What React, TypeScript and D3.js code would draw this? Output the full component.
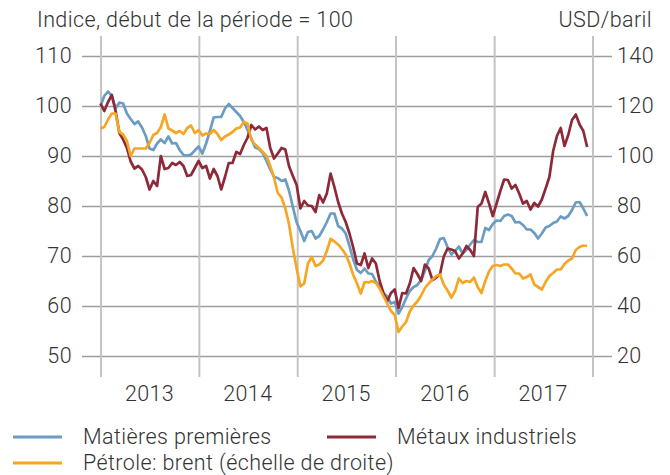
import React, { useEffect, useRef } from "react"
import * as d3 from "d3"

// chart size = browser window
const width = 670
const height = 475

// one value every 14 days, starting 1 Jan 2013
const startDate = new Date(2013, 0, 1)
const stepDays = 14

const yearLabels = ["2013", "2014", "2015", "2016", "2017"]
const leftTicks = [50, 60, 70, 80, 90, 100, 110]
const rightTicks = [20, 40, 60, 80, 100, 120, 140]

// Matières premières (indice, début = 100)
const matieres = [
  100, 102, 102.9, 102, 99.5, 100.7, 100.5, 98.5, 97.4, 96.4,
  96.9, 95.7, 94, 91.5, 91.2, 92.5, 93.3, 92.6, 93.9, 92.5,
  92.6, 91.2, 90.2, 90.1, 90.3, 91.1, 91.9, 90.5, 92.5, 95,
  97.7, 97.8, 97.8, 99.5, 100.4, 99.6, 98.8, 98, 96.8, 95.2,
  93.5, 91.7, 91.4, 90.6, 89, 87.3, 85.8, 85.6, 85, 85.3,
  83, 79.8, 76.7, 75, 73, 74.8, 75, 73.5, 74, 75.3,
  76.8, 78.5, 78.5, 76, 75.5, 74.5, 72, 69.3, 67.2, 66.6,
  67.5, 66.5, 66.4, 64.9, 64, 62.6, 61.9, 60.5, 60.8, 58.5,
  59.8, 61.5, 63, 63.8, 64.2, 65.2, 67, 69.2, 70, 71.5,
  73.4, 73.6, 71.8, 70.3, 71, 71.9, 70.5, 71.2, 72.3, 73.2,
  72.8, 72.8, 75.6, 75.2, 76.4, 77.1, 77, 78, 78.3, 78,
  76.7, 76.8, 76.2, 75.3, 75.3, 74.6, 73.5, 74.5, 75.7, 76,
  76.6, 76.9, 77.9, 77.5, 78, 79.2, 80.7, 80.8, 79.5, 78,
]

// Métaux industriels (indice, début = 100)
const metaux = [
  100.5, 99, 100.8, 102.2, 99, 94.6, 93.3, 91.6, 88.9, 87.5,
  88, 87.3, 85.8, 83.3, 85, 84, 90, 87.4, 87.6, 88.6,
  88.2, 88.8, 88, 86, 86.2, 87.6, 89, 87.6, 88, 85.5,
  87.4, 86, 83.3, 85.8, 88.6, 88.6, 90.8, 90.4, 92.2, 93.7,
  96.2, 95.3, 95.9, 95.2, 95.6, 91.6, 89.5, 90.5, 91.6, 91.3,
  87.9, 86, 84.2, 79.5, 81, 80.1, 80, 78.8, 82.2, 80.7,
  82.5, 86.5, 83.8, 80.8, 78.5, 76.8, 74.5, 71.7, 68.5, 68.2,
  70.5, 67.6, 69.5, 68.5, 65, 62.6, 60.9, 62.6, 63.3, 59.6,
  62.6, 62.5, 64.5, 67.6, 66.4, 65, 68.3, 67.5, 65.2, 65.7,
  66.4, 69.9, 71.5, 71.3, 71, 69.5, 70.5, 72, 71.2, 70,
  79.8, 80.5, 82.8, 80.5, 78, 80.5, 83, 85.3, 85.2, 83.5,
  84.2, 82.5, 80.5, 81, 79.3, 80.6, 79.9, 81.3, 83.5, 85.8,
  91, 94, 95.6, 92, 94.2, 97.2, 98.3, 96.3, 95, 91.8,
]

// Pétrole: brent (USD/baril, échelle de droite)
const brent = [
  111, 111.6, 114.6, 117, 117, 109.6, 108.6, 106, 100, 103,
  103, 103, 103, 105.2, 108.4, 109.2, 111.6, 116.6, 111, 110.2,
  109.2, 110, 108.8, 111.2, 112.2, 109.2, 110.4, 108.2, 109, 108.8,
  110.4, 108.8, 106.4, 107.8, 108.6, 109.6, 111, 111.4, 113.6, 113,
  106.4, 104.6, 103.2, 101.6, 100, 96, 91.4, 85.2, 83.4, 79,
  72.6, 63, 55, 47.8, 49, 57, 59.6, 56, 56.6, 58.2,
  62, 66.8, 65.8, 64.6, 62.8, 60.6, 57, 52.4, 49, 45,
  49.6, 49.4, 50, 49.2, 47, 44, 41, 38, 36.4, 29.6,
  31.8, 33.6, 37.8, 40.2, 41.8, 44.2, 47.2, 49, 50.6, 52,
  52.6, 48.6, 46.2, 43.4, 46, 51, 49.2, 50, 49.6, 51.4,
  47.6, 45.2, 50, 53.8, 56, 56.4, 56, 56.6, 56.6, 55,
  53, 53, 51, 51.6, 52.6, 48.6, 47.6, 46.6, 49.6, 52,
  53.2, 54.6, 54.6, 56.8, 58.2, 59, 62.4, 63.6, 64.2, 64,
]

const colors = {
  matieres: "#6b9cc4",
  metaux: "#8d2939",
  brent: "#f6a623",
}

const textColor = "#333"
const fontFamily = "Roboto, 'Noto Sans', sans-serif"
const fontSize = "21.5px"
const spacing = "0.4px"

const styleText = sel =>
  sel
    .attr("fill", textColor)
    .style("font-size", fontSize)
    .style("font-family", fontFamily)
    .style("font-weight", 300)
    .style("letter-spacing", spacing)

const drawChart = wrapper => {
  d3.select(wrapper).selectAll("*").remove()

  const svg = d3
    .select(wrapper)
    .append("svg")
    .attr("width", width)
    .attr("height", height)
    .style("position", "absolute")
    .style("left", 0)
    .style("top", 0)

  const dates = d3.range(matieres.length).map(i => d3.timeDay.offset(startDate, i * stepDays))

  const x = d3
    .scaleTime()
    .domain([new Date(2013, 0, 1), new Date(2018, 0, 1)])
    .range([100.5, 592.5])
  const yLeft = d3.scaleLinear().domain([50, 110]).range([356, 56])
  const yRight = d3.scaleLinear().domain([20, 140]).range([356, 56])

  const gridLeft = 82
  const gridRight = 612

  // horizontal gridlines + left labels
  const leftAxis = d3
    .axisLeft(yLeft)
    .tickValues(leftTicks)
    .tickSize(-(gridRight - gridLeft))
    .tickPadding(10)
  const gL = svg.append("g").attr("transform", `translate(${gridLeft},0)`).call(leftAxis)
  gL.select(".domain").remove()
  gL.selectAll("line").attr("stroke", "#9d9d9d").attr("stroke-width", 1.5)
  gL.selectAll("text").call(styleText)

  // right labels
  const rightAxis = d3.axisRight(yRight).tickValues(rightTicks).tickSize(0).tickPadding(5)
  const gR = svg.append("g").attr("transform", `translate(${gridRight},0)`).call(rightAxis)
  gR.select(".domain").remove()
  gR.selectAll("text").call(styleText)

  // vertical year gridlines
  const gridTop = 36
  const gridBottom = 377
  const xAxis = d3
    .axisBottom(x)
    .tickValues(d3.timeYear.range(new Date(2013, 0, 1), new Date(2018, 0, 2)))
    .tickSize(-(gridBottom - gridTop))
    .tickFormat("")
  const gX = svg.append("g").attr("transform", `translate(0,${gridBottom})`).call(xAxis)
  gX.select(".domain").remove()
  gX.selectAll("line").attr("stroke", "#c4c4c4").attr("stroke-width", 2)

  // year labels centred in each year
  svg
    .append("g")
    .selectAll("text")
    .data(yearLabels)
    .enter()
    .append("text")
    .attr("x", d => x(new Date(+d, 6, 2)))
    .attr("y", 401)
    .attr("text-anchor", "middle")
    .call(styleText)
    .text(d => d)

  // series
  const lineLeft = d3
    .line()
    .x((d, i) => x(dates[i]))
    .y(d => yLeft(d))
  const lineRight = d3
    .line()
    .x((d, i) => x(dates[i]))
    .y(d => yRight(d))

  const series = [
    { values: matieres, gen: lineLeft, color: colors.matieres },
    { values: metaux, gen: lineLeft, color: colors.metaux },
    { values: brent, gen: lineRight, color: colors.brent },
  ]
  series.forEach(s => {
    svg
      .append("path")
      .attr("d", s.gen(s.values))
      .attr("fill", "none")
      .attr("stroke", s.color)
      .attr("stroke-width", 2.7)
      .attr("stroke-linejoin", "round")
  })

  // titles
  svg
    .append("text")
    .attr("x", 37)
    .attr("y", 27)
    .call(styleText)
    .text("Indice, début de la période = 100")
  svg
    .append("text")
    .attr("x", 652)
    .attr("y", 27)
    .attr("text-anchor", "end")
    .call(styleText)
    .text("USD/baril")

  // legend
  const legend = [
    { label: "Matières premières", color: colors.matieres, x: 13, y: 437 },
    { label: "Métaux industriels", color: colors.metaux, x: 327, y: 437 },
    { label: "Pétrole: brent (échelle de droite)", color: colors.brent, x: 13, y: 463 },
  ]
  const lg = svg.append("g").selectAll("g").data(legend).enter().append("g")
  lg.append("line")
    .attr("x1", d => d.x)
    .attr("x2", d => d.x + 49)
    .attr("y1", d => d.y)
    .attr("y2", d => d.y)
    .attr("stroke", d => d.color)
    .attr("stroke-width", 3)
  lg.append("text")
    .attr("x", d => d.x + 70)
    .attr("y", d => d.y + 7)
    .call(styleText)
    .text(d => d.label)
}

export default function App() {
  const chart = useRef(null)
  useEffect(() => {
    drawChart(chart.current)
  }, [])

  return <div ref={chart}></div>
}
